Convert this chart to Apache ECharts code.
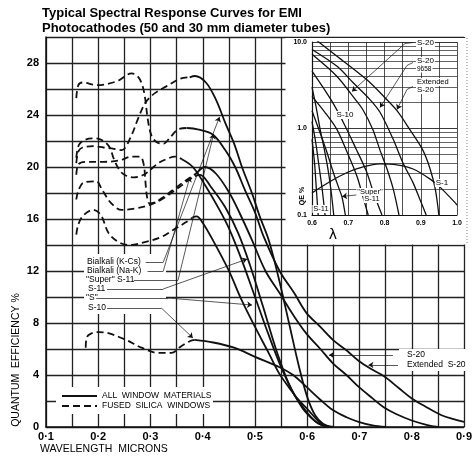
<!DOCTYPE html>
<html><head><meta charset="utf-8">
<script src="https://cdn.jsdelivr.net/npm/echarts@6/dist/echarts.min.js"></script>
<style>html,body{margin:0;padding:0;background:#fff}#c{width:475px;height:457px}</style>
</head><body><div id="c"></div>
<script>
// ---------- tick labels ----------
const xTickLabels = [0.1, 0.2, 0.3, 0.4, 0.5, 0.6, 0.7, 0.8, 0.9];
const yTickLabels = [0, 4, 8, 12, 16, 20, 24, 28];
const insetXTickLabels = [0.6, 0.7, 0.8, 0.9, 1.0];
const insetYTickLabels = [0.1, 1, 10];
const insetMinorLines = [0.2, 0.3, 0.4, 0.5, 0.6, 0.7, 0.8, 0.9, 2, 3, 4, 5, 6, 7, 8, 9];

// ---------- main chart: [wavelength (microns), quantum efficiency %] ----------
// dashed = fused silica window extension, solid = all window materials
const bialkaliKCsUV = [[0.158,20.3],[0.162,21.2],[0.17,21.5],[0.19,21.6],[0.21,21.5],[0.23,21.4],[0.245,21.3],[0.262,22.3],[0.277,23.8],[0.291,25.0],[0.309,25.7],[0.33,26.2],[0.357,26.8],[0.375,26.9]];
const bialkaliKCs = [[0.375,26.9],[0.385,27.0],[0.406,26.5],[0.425,25.2],[0.443,23.4],[0.46,21.8],[0.475,20.0],[0.494,18.0],[0.509,16.2],[0.526,14.4],[0.545,11.5],[0.565,8.0],[0.585,4.5],[0.6,2.3],[0.615,0.9],[0.63,0.25],[0.645,0]];

const extS20UV = [[0.158,25.3],[0.162,26.3],[0.17,26.5],[0.198,26.3],[0.236,26.6],[0.264,27.2],[0.277,26.9],[0.285,26.2],[0.29,25.2],[0.295,23.6],[0.302,22.4],[0.312,21.9],[0.325,21.8],[0.338,22.3],[0.353,22.9],[0.37,23.0]];
const extS20 = [[0.37,23.0],[0.39,22.9],[0.419,22.5],[0.443,21.3],[0.462,20.0],[0.481,18.2],[0.5,16.5],[0.517,14.6],[0.547,12.0],[0.575,10.3],[0.598,8.8],[0.625,7.7],[0.649,6.7],[0.675,5.9],[0.698,5.1],[0.725,4.4],[0.747,3.9],[0.775,3.0],[0.8,2.2],[0.825,1.6],[0.857,0.9],[0.88,0.6],[0.9,0.4]];

const superS11UV = [[0.158,20.7],[0.163,21.7],[0.175,22.1],[0.195,22.2],[0.21,22.0],[0.222,21.5],[0.23,20.6],[0.24,19.8],[0.25,19.4],[0.268,19.2],[0.287,19.4],[0.3,19.8],[0.315,20.3],[0.33,20.6],[0.347,20.8],[0.36,20.6]];
const superS11 = [[0.36,20.6],[0.381,20.0],[0.406,18.5],[0.432,16.7],[0.451,15.2],[0.475,12.8],[0.5,10.0],[0.525,7.2],[0.55,4.6],[0.575,2.5],[0.6,1.1],[0.615,0.45],[0.63,0.1],[0.64,0]];

const s20UV = [[0.158,19.4],[0.162,20.2],[0.175,20.4],[0.21,20.4],[0.24,20.5],[0.265,20.8],[0.28,20.8],[0.287,20.2],[0.29,19.0],[0.293,17.8],[0.298,17.2],[0.31,17.3],[0.325,17.7],[0.345,18.3],[0.365,18.9],[0.38,19.3],[0.39,19.6]];
const s20 = [[0.39,19.6],[0.404,20.0],[0.425,19.5],[0.451,18.0],[0.47,16.5],[0.494,14.4],[0.52,12.0],[0.547,10.3],[0.575,8.5],[0.598,7.2],[0.625,6.0],[0.649,4.9],[0.675,4.0],[0.698,3.1],[0.725,2.2],[0.747,1.5],[0.77,1.0],[0.8,0.5],[0.83,0.15],[0.85,0]];

const bialkaliNaKUV = [[0.158,17.5],[0.162,18.2],[0.172,18.8],[0.196,18.9],[0.208,18.2],[0.225,17.2],[0.245,16.7],[0.27,16.8],[0.3,17.1],[0.325,17.6],[0.35,18.3],[0.37,18.9],[0.385,19.3]];
const bialkaliNaK = [[0.385,19.3],[0.395,19.4],[0.415,18.5],[0.443,16.9],[0.468,14.9],[0.49,12.5],[0.515,9.3],[0.54,6.0],[0.565,3.3],[0.59,1.5],[0.605,0.8],[0.62,0.3],[0.64,0]];

const sUV = [[0.158,14.8],[0.162,15.6],[0.172,16.3],[0.19,16.7],[0.205,16.3],[0.22,14.9],[0.24,14.2],[0.26,14.0],[0.287,14.2],[0.32,14.6],[0.345,15.2],[0.37,15.8],[0.38,16.1]];
const sCurve = [[0.38,16.1],[0.388,16.2],[0.4,15.7],[0.419,14.4],[0.449,12.1],[0.474,9.8],[0.5,7.7],[0.526,5.7],[0.545,4.2],[0.564,3.1],[0.583,2.1],[0.602,1.3],[0.62,0.5],[0.632,0.15],[0.65,0]];

const s10UV = [[0.176,6.1],[0.178,6.9],[0.187,7.2],[0.202,7.3],[0.221,7.2],[0.253,6.7],[0.283,6.1],[0.315,5.7],[0.34,5.7],[0.358,6.2],[0.375,6.6],[0.385,6.7]];
const s10 = [[0.385,6.7],[0.42,6.5],[0.46,6.1],[0.5,5.4],[0.547,4.6],[0.573,4.0],[0.598,3.1],[0.625,2.1],[0.649,1.3],[0.675,0.75],[0.698,0.4],[0.725,0.12],[0.75,0]];

// ---------- inset (log QE %) ----------
const insetS1 = [[0.6,0.18],[0.65,0.244],[0.697,0.31],[0.741,0.36],[0.787,0.39],[0.834,0.38],[0.879,0.34],[0.926,0.26],[0.953,0.21],[0.994,0.14],[1.0,0.13]];
const insetExtS20 = [[0.6,11.5],[0.67,6.8],[0.75,3.7],[0.8,2.3],[0.835,1.6],[0.87,0.97],[0.905,0.57],[0.925,0.35],[0.94,0.2],[0.95,0.1]];
const insetS20_9658 = [[0.6,8.2],[0.67,5.2],[0.713,3.4],[0.76,2.16],[0.788,1.53],[0.824,0.75],[0.851,0.4],[0.878,0.24],[0.898,0.15],[0.915,0.1]];
const insetS20 = [[0.6,7.2],[0.669,4.0],[0.713,2.35],[0.74,1.66],[0.768,0.97],[0.787,0.57],[0.807,0.34],[0.824,0.2],[0.84,0.1]];
const insetS = [[0.6,4.6],[0.63,3.0],[0.66,1.9],[0.69,1.1],[0.72,0.6],[0.75,0.32],[0.77,0.18],[0.793,0.1]];
const insetS10 = [[0.6,2.35],[0.636,1.53],[0.669,0.97],[0.697,0.53],[0.724,0.28],[0.741,0.16],[0.755,0.1]];
const insetKCs = [[0.6,3.0],[0.611,1.8],[0.622,1.0],[0.633,0.6],[0.644,0.34],[0.652,0.2],[0.66,0.1]];
const insetSuperS11 = [[0.6,1.6],[0.62,0.95],[0.64,0.55],[0.66,0.3],[0.675,0.2],[0.683,0.16],[0.692,0.1]];
const insetNaK = [[0.6,1.2],[0.61,0.7],[0.62,0.35],[0.628,0.2],[0.636,0.1]];
const insetS11 = [[0.6,0.75],[0.607,0.4],[0.612,0.2],[0.617,0.1]];

// ---------- annotation leader paths (data units) ----------
const mainLeaders = [
  [[0.2906,12.69],[0.3245,12.69],[0.4321,23.85]],
  [[0.2943,12.0],[0.3245,12.0],[0.3755,19.23]],
  [[0.2679,11.31],[0.3528,11.31],[0.4208,22.54]],
  [[0.217,10.62],[0.3245,10.62],[0.4849,12.92]],
  [[0.1962,9.92],[0.334,9.92],[0.4943,9.38]],
  [[0.217,9.15],[0.3208,9.15],[0.3811,6.85]],
  [[0.764,5.54],[0.6415,5.54]],
  [[0.7736,4.77],[0.717,4.77]]
];
const insetLeaders = [
  [[0.8786,9.86],[0.8566,9.61],[0.7103,2.68]],
  [[0.8786,5.79],[0.862,5.35],[0.7876,1.75]],
  [[0.8786,3.06],[0.862,2.82],[0.8345,1.66]],
  [[0.738,0.173],[0.683,0.164]]
];

// ---------- build ----------
const FONT = '"Liberation Sans", Arial, sans-serif';
const NARROW = '"Liberation Sans Narrow", "Liberation Sans", Arial, sans-serif';
const INK = '#111';

function near(list, v) { return list.some(t => Math.abs(t - v) < 1e-6); }

function mainLine(data, dashed) {
  return { type: 'line', xAxisIndex: 0, yAxisIndex: 0, data, symbol: 'none', showSymbol: false,
    smooth: 0.35, silent: true, z: 3,
    lineStyle: { color: INK, width: 1.8, type: dashed ? [7, 4] : 'solid' } };
}
function insetLine(data, extra) {
  return Object.assign({ type: 'line', xAxisIndex: 1, yAxisIndex: 1, data, symbol: 'none', showSymbol: false,
    smooth: 0.3, silent: true, z: 7, lineStyle: { color: INK, width: 1.3 } }, extra || {});
}
function leaderSeries(paths, xi, yi, arrow) {
  const data = [];
  paths.forEach(p => {
    for (let i = 0; i < p.length - 1; i++) {
      const last = i === p.length - 2;
      if (last === arrow) data.push({ coords: [p[i], p[i + 1]] });
    }
  });
  return { type: 'lines', coordinateSystem: 'cartesian2d', xAxisIndex: xi, yAxisIndex: yi, data,
    polyline: false, silent: true, z: 9,
    symbol: arrow ? ['none', 'arrow'] : ['none', 'none'], symbolSize: arrow ? [0, 5] : 0,
    lineStyle: { color: INK, width: 0.7, opacity: 1 } };
}

const series = [
  mainLine(bialkaliKCsUV, true), mainLine(bialkaliKCs, false),
  mainLine(extS20UV, true), mainLine(extS20, false),
  mainLine(superS11UV, true), mainLine(superS11, false),
  mainLine(s20UV, true), mainLine(s20, false),
  mainLine(bialkaliNaKUV, true), mainLine(bialkaliNaK, false),
  mainLine(sUV, true), mainLine(sCurve, false),
  mainLine(s10UV, true), mainLine(s10, false),
  insetLine(insetS1, { markLine: { silent: true, symbol: ['none', 'none'], animation: false,
    label: { show: false }, lineStyle: { color: '#222', width: 0.7, type: 'solid' },
    data: insetMinorLines.map(v => ({ yAxis: v })) } }),
  insetLine(insetExtS20), insetLine(insetS20_9658), insetLine(insetS20), insetLine(insetS),
  insetLine(insetS10), insetLine(insetKCs), insetLine(insetSuperS11), insetLine(insetNaK), insetLine(insetS11),
  leaderSeries(mainLeaders, 0, 0, false), leaderSeries(mainLeaders, 0, 0, true),
  leaderSeries(insetLeaders, 1, 1, false), leaderSeries(insetLeaders, 1, 1, true)
];

function txt(x, y, text, font, align, extra) {
  return Object.assign({ type: 'text', x, y, z: 10,
    style: Object.assign({ text, font, fill: '#000', align: align || 'left', verticalAlign: 'middle',
      textAlign: align || 'left', textVerticalAlign: 'middle' }, (extra && extra.style) || {}) },
    extra && extra.rotation != null ? { rotation: extra.rotation } : {});
}
function box(x, y, w, h) {
  return { type: 'rect', z: 5, shape: { x, y, width: w, height: h }, style: { fill: '#fff', stroke: null } };
}
const lbl = '8.5px ' + FONT;
const ins = '8px ' + FONT;
const wbg = { style: { backgroundColor: '#fff', padding: [0, 1] } };

const graphics = [
  box(285.5, 38, 183.5, 206.5),
  box(84, 254, 82, 60),
  box(56, 387, 157, 27),
  box(399, 349, 68, 22),
  { type: 'line', z: 6, shape: { x1: 467, y1: 38, x2: 467, y2: 244 }, style: { stroke: '#666', lineWidth: 0.8, lineDash: [1, 2] } },
  txt(42, 13, 'Typical Spectral Response Curves for EMI', 'bold 13px ' + FONT),
  txt(42, 28, 'Photocathodes (50 and 30 mm diameter tubes)', 'bold 13px ' + FONT),
  txt(16, 360, 'QUANTUM  EFFICIENCY %', '10.5px ' + FONT, 'center', { rotation: Math.PI / 2 }),
  txt(40, 449, 'WAVELENGTH  MICRONS', '10.5px ' + FONT),
  txt(87, 262, 'Bialkali (K-Cs)', lbl),
  txt(87, 271, 'Bialkali (Na-K)', lbl),
  txt(86, 280, '"Super" S-11', lbl),
  txt(88, 289, 'S-11', lbl),
  txt(86, 298, '"S"', lbl),
  txt(88, 308, 'S-10', lbl),
  txt(407, 355, 'S-20', lbl),
  txt(407, 365, 'Extended  S-20', lbl),
  { type: 'line', z: 10, shape: { x1: 62, y1: 396, x2: 97, y2: 396 }, style: { stroke: INK, lineWidth: 1.8 } },
  { type: 'line', z: 10, shape: { x1: 62, y1: 406, x2: 97, y2: 406 }, style: { stroke: INK, lineWidth: 1.8, lineDash: [7, 4] } },
  txt(102, 396, 'ALL  WINDOW  MATERIALS', lbl),
  txt(102, 406, 'FUSED  SILICA  WINDOWS', lbl),
  txt(416, 43, 'S-20', ins, 'left', wbg),
  txt(416, 61, 'S-20', ins, 'left', wbg),
  txt(416, 69, '9658', '6.5px ' + FONT, 'left', wbg),
  txt(416, 82, 'Extended', '7.5px ' + FONT, 'left', wbg),
  txt(416, 90, 'S-20', ins, 'left', wbg),
  txt(345, 115, 'S-10', ins, 'center', wbg),
  txt(442, 183, 'S-1', ins, 'center', wbg),
  txt(370, 192, '"Super"', '7.5px ' + FONT, 'center', wbg),
  txt(372, 199, 'S-11', '7.5px ' + FONT, 'center', wbg),
  txt(321, 209, 'S-11', '7.5px ' + FONT, 'center', wbg),
  txt(302, 196, 'QE %', 'bold 7px ' + FONT, 'center', { rotation: Math.PI / 2 }),
  txt(333, 235, 'λ', '14px "DejaVu Sans", ' + FONT, 'center')
];

const option = {
  animation: false,
  backgroundColor: '#fff',
  grid: [
    { left: 46, right: 5, top: 37, bottom: 30 },
    { left: 312, right: 18, top: 42, bottom: 242 }
  ],
  xAxis: [
    { type: 'value', gridIndex: 0, min: 0.1, max: 0.9, interval: 0.05, z: 0,
      axisLine: { show: true, lineStyle: { color: INK, width: 1.5 } }, axisTick: { show: false },
      splitLine: { show: true, lineStyle: { color: '#222', width: 1.3 } },
      axisLabel: { margin: 4, color: '#000', fontSize: 11, fontWeight: 'bold', fontFamily: NARROW,
        formatter: v => { const r = Math.round(v * 100) / 100; return near(xTickLabels, r) ? r.toFixed(1).replace('.', '·') : ''; } } },
    { type: 'value', gridIndex: 1, min: 0.6, max: 1.0, interval: 0.05, z: 6,
      axisLine: { show: true, lineStyle: { color: INK, width: 1.2 } }, axisTick: { show: false },
      splitLine: { show: true, lineStyle: { color: '#222', width: 0.8 } },
      axisLabel: { margin: 5, color: '#000', fontSize: 7, fontWeight: 'bold', fontFamily: FONT,
        formatter: v => { const r = Math.round(v * 100) / 100; return near(insetXTickLabels, r) ? r.toFixed(1) : ''; } } }
  ],
  yAxis: [
    { type: 'value', gridIndex: 0, min: 0, max: 30, interval: 2, z: 0,
      axisLine: { show: true, lineStyle: { color: INK, width: 1.5 } }, axisTick: { show: false },
      splitLine: { show: true, lineStyle: { color: '#222', width: 1.3 } },
      axisLabel: { margin: 7, color: '#000', fontSize: 11, fontWeight: 'bold', fontFamily: FONT,
        formatter: v => near(yTickLabels, v) ? String(v) : '' } },
    { type: 'log', logBase: 10, gridIndex: 1, min: 0.1, max: 10, z: 6,
      axisLine: { show: true, lineStyle: { color: INK, width: 1.2 } }, axisTick: { show: false },
      splitLine: { show: true, lineStyle: { color: '#222', width: 0.9 } },
      axisLabel: { margin: 5, color: '#000', fontSize: 7, fontWeight: 'bold', fontFamily: FONT,
        formatter: v => { const t = insetYTickLabels.find(k => Math.abs(k - v) / k < 1e-6); return t == null ? '' : t.toFixed(1); } } }
  ],
  series,
  graphic: { elements: graphics }
};

const chart = echarts.init(document.getElementById('c'), null, { renderer: 'canvas' });
chart.setOption(option);
</script>
</body></html>
